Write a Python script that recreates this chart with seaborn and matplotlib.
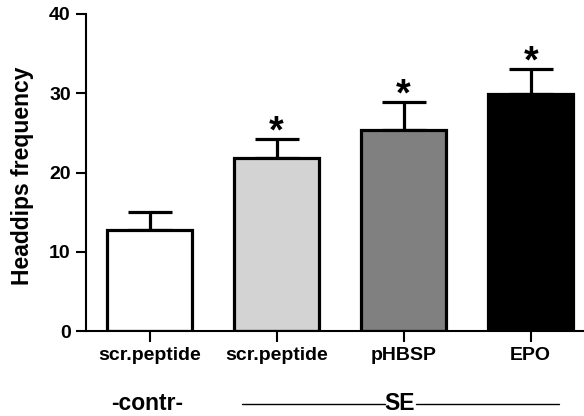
import matplotlib
matplotlib.use("Agg")
import matplotlib.pyplot as plt
import matplotlib.transforms as mtransforms
import seaborn as sns
import pandas as pd

groups = ["g1", "g2", "g3", "g4"]
tick_labels = ["scr.peptide", "scr.peptide", "pHBSP", "EPO"]
means = [12.7, 21.8, 25.3, 29.85]
sems = [2.3, 2.4, 3.6, 3.15]
colors = ["#ffffff", "#d3d3d3", "#808080", "#000000"]
stars = ["", "*", "*", "*"]

sns.set_style("ticks")
plt.rcParams['font.family'] = ['Liberation Sans', 'DejaVu Sans']
plt.rcParams['font.weight'] = 'bold'
for k in ["text.color", "axes.labelcolor", "xtick.color", "ytick.color", "axes.edgecolor"]:
    plt.rcParams[k] = "black"

df = pd.DataFrame({"group": groups, "value": means})

fig = plt.figure(figsize=(5.84, 4.16), dpi=100)
ax = fig.add_axes([86/584, 1-331/416, 1-86/584, (331-14)/416])

sns.barplot(data=df, x="group", y="value", hue="group", palette=colors,
            edgecolor="black", linewidth=2.3, width=0.67, legend=False,
            errorbar=None, ax=ax, zorder=2)

xs = list(range(len(groups)))
ax.errorbar(xs, means, yerr=[[0]*4, sems], fmt="none", ecolor="black",
            elinewidth=2.3, capsize=16, capthick=2.3, zorder=1)

for x, m, s, st in zip(xs, means, sems, stars):
    if st:
        ax.text(x, m + s - 0.4, st, ha="center", va="baseline",
                fontsize=27, fontweight="bold")

ax.set_ylim(0, 40)
ax.set_xlim(-0.5, 3.42)
ax.set_yticks([0, 10, 20, 30, 40])
ax.set_xticks(xs)
ax.set_xticklabels(tick_labels, fontsize=14, fontweight="bold")
ax.tick_params(axis="y", labelsize=14, width=1.5, length=7.5, pad=3.5)
ax.tick_params(axis="x", width=1.5, length=8, pad=3.5)
for lab in ax.get_yticklabels():
    lab.set_fontweight("bold")
ax.set_xlabel("")
ax.set_ylabel("")
fig.text(23/584, 1-176/416, "Headdips frequency", rotation=90,
         ha="center", va="center", fontsize=16.5, fontweight="bold")
sns.despine(ax=ax)
ax.spines["left"].set_linewidth(1.5)
ax.spines["bottom"].set_linewidth(1.5)

trans = mtransforms.blended_transform_factory(ax.transData, fig.transFigure)
yline = (416 - 404.3) / 416
ybase = (416 - 410.5) / 416
ax.text(-0.02, ybase, "-contr-", transform=trans, ha="center", va="baseline",
        fontsize=16.5, fontweight="bold")
ax.plot([0.728, 1.854], [yline, yline], color="black", lw=1.0,
        transform=trans, clip_on=False)
ax.plot([2.098, 3.224], [yline, yline], color="black", lw=1.0,
        transform=trans, clip_on=False)
ax.text(1.972, ybase, "SE", transform=trans, ha="center", va="baseline",
        fontsize=16.5, fontweight="bold")

fig.savefig("out.png", dpi=100)
